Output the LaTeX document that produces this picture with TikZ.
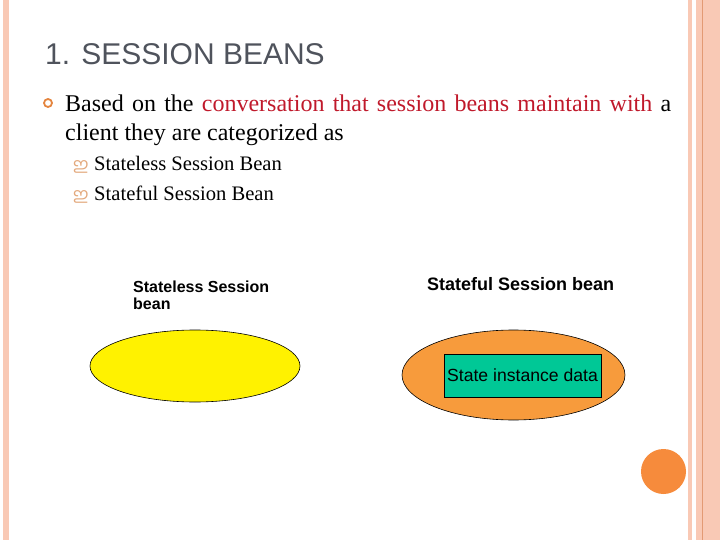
\documentclass[tikz,border=0pt]{standalone}
\usepackage{fontspec}
\setmainfont{Liberation Serif}
\setsansfont{Liberation Sans}
\newfontfamily\malfont[Script=Malayalam]{Hind Kochi}
\usetikzlibrary{shapes.geometric,positioning}
\definecolor{slidepink}{HTML}{F9C9B5}
\definecolor{stripeline}{HTML}{E39A74}
\definecolor{titlegray}{HTML}{4F535C}
\definecolor{convred}{HTML}{C0192B}
\definecolor{dotorange}{HTML}{E4853F}
\definecolor{subtan}{HTML}{E3A97D}
\definecolor{beanorange}{HTML}{F79B3C}
\definecolor{stategreen}{HTML}{00C896}
\definecolor{ballorange}{HTML}{F68B3C}
\tikzset{
  txt/.style={inner sep=0pt, anchor=base west},
  subitem/.style={txt, font=\fontsize{20.6pt}{24pt}\selectfont},
  subsym/.style={txt, text=subtan, font=\malfont\fontsize{17pt}{20pt}\selectfont},
  label/.style={inner sep=0pt, font=\sffamily\bfseries\fontsize{16pt}{17pt}\selectfont},
  bean/.style={ellipse, draw=black, line width=0.6pt, inner sep=0pt}
}
\begin{document}
\begin{tikzpicture}[x=1pt,y=-1pt]
  \useasboundingbox (0,0) rectangle (720,540);
  % slide frame
  \fill[slidepink] (3,0) rectangle (9,540);
  \fill[slidepink] (688,0) rectangle (692,540);
  \fill[slidepink] (696,0) rectangle (720,540);
  \draw[stripeline, line width=1pt] (702.5,0) -- (702.5,540);
  \node[circle, fill=ballorange, minimum size=45pt, inner sep=0pt] (ball) at (663.5,471.5) {};
  % text
  \node[txt, text=titlegray, font=\sffamily\fontsize{30pt}{36pt}\selectfont] (title) at (45,65) {1. SESSION BEANS};
  \node[circle, draw=dotorange, line width=1.8pt, minimum size=8pt, inner sep=0pt] (dot) at (48,103) {};
  \node[inner sep=0pt, anchor=north west, align=left, font=\fontsize{24pt}{29pt}\selectfont] (intro) at (65,94.6)
    {\makebox[606pt][s]{Based on the \textcolor{convred}{conversation that session beans maintain with} a}\\client they are categorized as};
  \node[subsym] (s1) at (73,171) {ഇ};
  \node[subitem] (less) at (94,171) {Stateless Session Bean};
  \node[subsym] (s2) at (73,201) {ഇ};
  \node[subitem] (ful) at (94,201) {Stateful Session Bean};
  % beans
  \node[label, anchor=north west, align=left] (lesslbl) at (133,281) {Stateless Session\\bean};
  \node[label, anchor=base west, font=\sffamily\bfseries\fontsize{18pt}{20pt}\selectfont] (fullbl) at (427,290) {Stateful Session bean};
  \node[bean, fill=yellow, minimum width=210pt, minimum height=72pt] (lessbean) at (195,366) {};
  \node[bean, fill=beanorange, minimum width=223pt, minimum height=90pt] (fulbean) at (513.5,375) {};
  \node[draw=black, fill=stategreen, line width=0.6pt, inner sep=0pt, minimum width=157pt, minimum height=43pt,
    font=\sffamily\fontsize{17.6pt}{20pt}\selectfont] (data) at (522.5,375.5) {State instance data};
\end{tikzpicture}
\end{document}
